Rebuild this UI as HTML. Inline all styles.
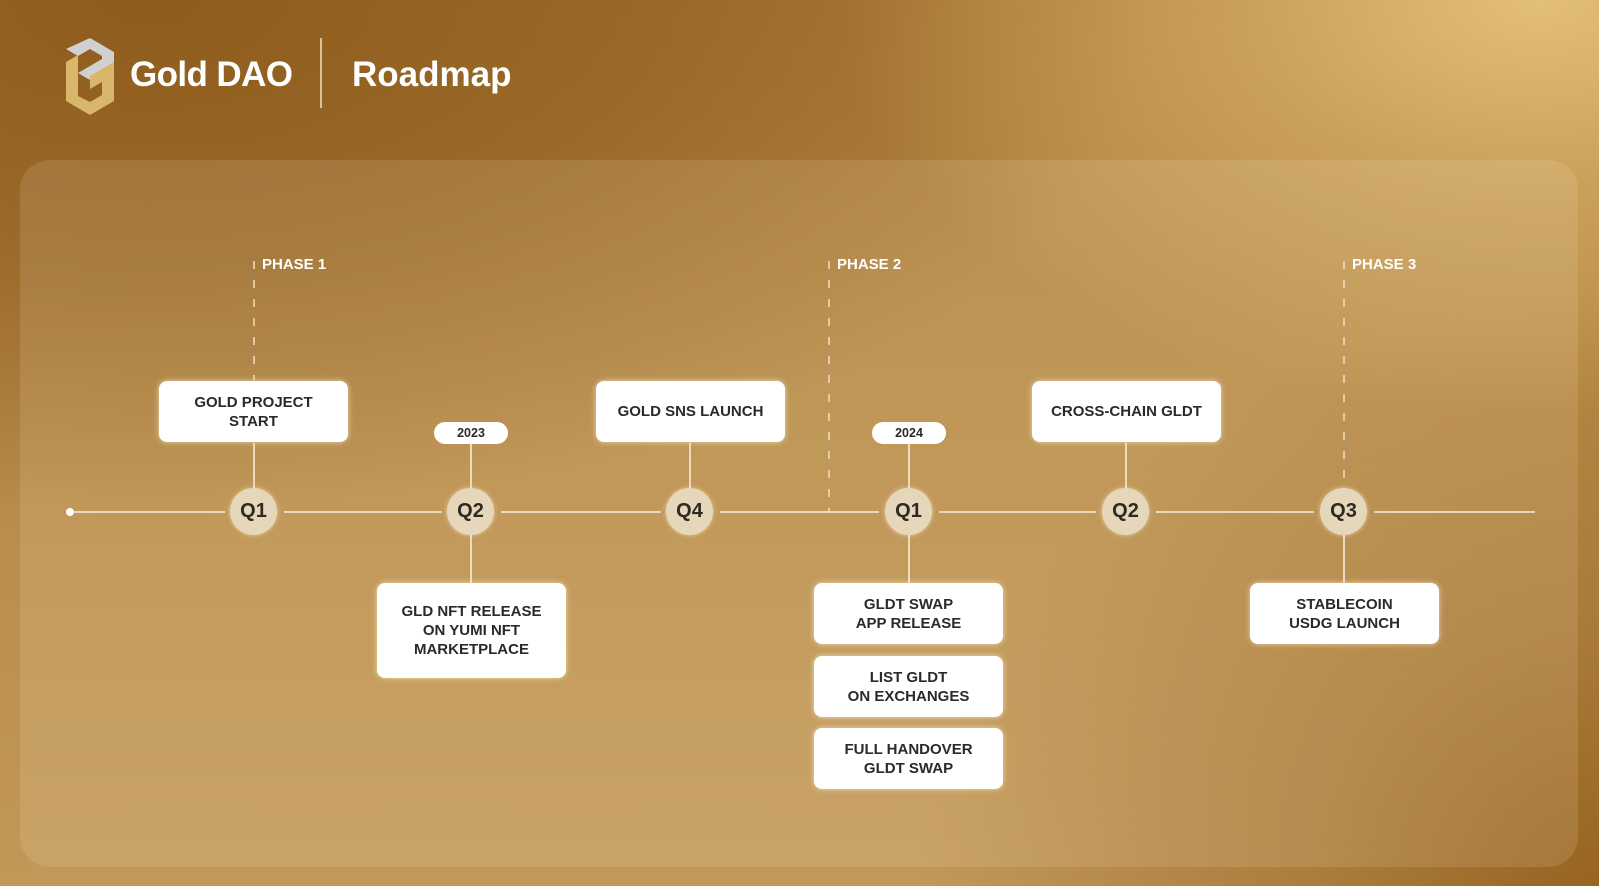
<!DOCTYPE html>
<html><head><meta charset="utf-8"><style>
html,body{margin:0;padding:0}
body{width:1599px;height:886px;overflow:hidden;position:relative;font-family:"Liberation Sans",sans-serif;
background:
radial-gradient(ellipse 700px 420px at 1540px 0px,#e4bf78 0%,rgba(218,180,108,0.6) 45%,rgba(200,160,90,0) 100%),
radial-gradient(ellipse 700px 600px at 1620px 900px,#95621d 0%,rgba(150,100,35,0.5) 45%,rgba(160,110,40,0) 100%),
radial-gradient(ellipse 1000px 520px at 150px 0px,#8e5c1c 0%,rgba(145,96,32,0.7) 50%,rgba(160,110,45,0) 100%),
linear-gradient(180deg,#ad7e3a 0%,#b88c48 55%,#c29858 100%);}
.panel{position:absolute;left:20px;top:160px;width:1558px;height:707px;border-radius:30px;background:rgba(255,238,205,0.13)}
svg{position:absolute;left:0;top:0}
.box{position:absolute;width:189px;height:61px;background:#fff;border-radius:8px;display:flex;align-items:center;justify-content:center;text-align:center;font-weight:bold;font-size:15px;line-height:19px;color:#2a2a2a;box-shadow:0 0 6px rgba(255,245,220,0.7)}
.pill{position:absolute;width:74px;height:22px;background:#fff;border-radius:11px;font-weight:bold;font-size:12.5px;line-height:22px;text-align:center;color:#2a2a2a}
.q{position:absolute;width:47px;height:47px;border-radius:50%;background:#e6d6ba;font-weight:bold;font-size:20px;line-height:47px;text-align:center;color:#2d2a25;box-shadow:0 0 5px rgba(255,245,220,0.6)}
.ph{position:absolute;color:#fff;font-weight:bold;font-size:15px;line-height:18px;top:256px}
</style></head><body>
<div class="panel"></div>
<svg width="1599" height="886">
 <g fill="none">
  <polygon points="90,38 114,52 114,66 90,80 78,73 102,59 102,56 90,49 78,56 66,49" fill="#d0d0d0"/>
  <path d="M66,62 L78,55 L78,96 L90,102 L102,95 L102,82 L90,89 L90,76 L114,62 L114,101 L90,115 L66,101 Z" fill="#d8b76a"/>
 </g>
 <line x1="321" y1="38" x2="321" y2="108" stroke="#f3e3c4" stroke-width="1.5"/>
 <g stroke="#f5ecdc" stroke-width="1.6">
  <line x1="70" y1="512" x2="225" y2="512"/>
  <line x1="284" y1="512" x2="442" y2="512"/>
  <line x1="501" y1="512" x2="661" y2="512"/>
  <line x1="720" y1="512" x2="879" y2="512"/>
  <line x1="939" y1="512" x2="1096" y2="512"/>
  <line x1="1156" y1="512" x2="1314" y2="512"/>
  <line x1="1374" y1="512" x2="1535" y2="512"/>
  <line x1="254" y1="443" x2="254" y2="490"/>
  <line x1="471" y1="444" x2="471" y2="490"/>
  <line x1="471" y1="534" x2="471" y2="583"/>
  <line x1="690" y1="443" x2="690" y2="490"/>
  <line x1="909" y1="444" x2="909" y2="490"/>
  <line x1="909" y1="534" x2="909" y2="583"/>
  <line x1="1126" y1="443" x2="1126" y2="490"/>
  <line x1="1344" y1="534" x2="1344" y2="583"/>
 </g>
 <g stroke="#f1e4cc" stroke-width="1.4" stroke-dasharray="8,11">
  <line x1="254" y1="261" x2="254" y2="380"/>
  <line x1="829" y1="261" x2="829" y2="512"/>
  <line x1="1344" y1="261" x2="1344" y2="488"/>
 </g>
 <circle cx="70" cy="512" r="4" fill="#fff"/>
 <text x="130" y="86" fill="#fff" font-family="Liberation Sans" font-weight="bold" font-size="35" textLength="163">Gold DAO</text>
 <text x="352" y="86" fill="#fff" font-family="Liberation Sans" font-weight="bold" font-size="35">Roadmap</text>
</svg>
<div class="ph" style="left:262px">PHASE 1</div>
<div class="ph" style="left:837px">PHASE 2</div>
<div class="ph" style="left:1352px">PHASE 3</div>

<div class="box" style="left:159px;top:381px">GOLD PROJECT<br>START</div>
<div class="box" style="left:596px;top:381px">GOLD SNS LAUNCH</div>
<div class="box" style="left:1032px;top:381px">CROSS-CHAIN GLDT</div>
<div class="box" style="left:377px;top:583px;height:95px">GLD NFT RELEASE<br>ON YUMI NFT<br>MARKETPLACE</div>
<div class="box" style="left:814px;top:583px">GLDT SWAP<br>APP RELEASE</div>
<div class="box" style="left:814px;top:656px">LIST GLDT<br>ON EXCHANGES</div>
<div class="box" style="left:814px;top:728px">FULL HANDOVER<br>GLDT SWAP</div>
<div class="box" style="left:1250px;top:583px">STABLECOIN<br>USDG LAUNCH</div>

<div class="pill" style="left:434px;top:422px">2023</div>
<div class="pill" style="left:872px;top:422px">2024</div>

<div class="q" style="left:230px;top:488px">Q1</div>
<div class="q" style="left:447px;top:488px">Q2</div>
<div class="q" style="left:666px;top:488px">Q4</div>
<div class="q" style="left:885px;top:488px">Q1</div>
<div class="q" style="left:1102px;top:488px">Q2</div>
<div class="q" style="left:1320px;top:488px">Q3</div>
</body></html>
